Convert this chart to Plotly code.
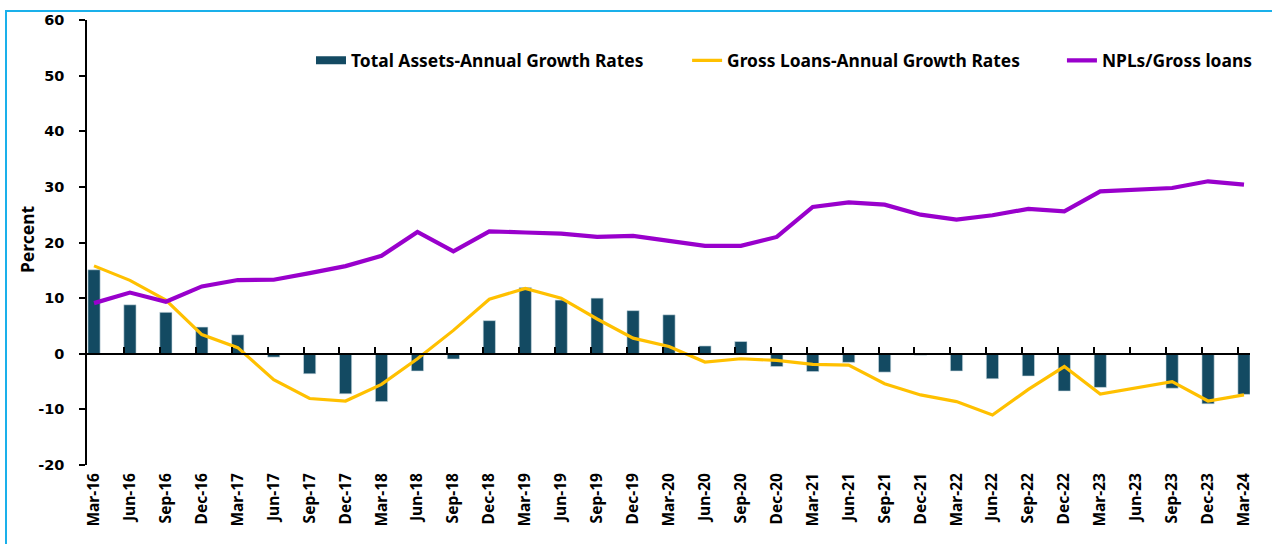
import plotly.graph_objects as go

quarters = ["Mar-16", "Jun-16", "Sep-16", "Dec-16", "Mar-17", "Jun-17", "Sep-17", "Dec-17",
            "Mar-18", "Jun-18", "Sep-18", "Dec-18", "Mar-19", "Jun-19", "Sep-19", "Dec-19",
            "Mar-20", "Jun-20", "Sep-20", "Dec-20", "Mar-21", "Jun-21", "Sep-21", "Dec-21",
            "Mar-22", "Jun-22", "Sep-22", "Dec-22", "Mar-23", "Jun-23", "Sep-23", "Dec-23",
            "Mar-24"]

total_assets_growth = [15.1, 8.8, 7.45, 4.8, 3.4, -0.6, -3.6, -7.2,
                       -8.6, -3.1, -0.95, 5.95, 11.9, 9.65, 10.0, 7.75,
                       7.0, 1.4, 2.2, -2.3, -3.2, -1.55, -3.3, -0.25,
                       -3.1, -4.5, -4.0, -6.7, -6.05, 0.0, -6.2, -9.0,
                       -7.3]

gross_loans_growth = [15.8, 13.2, 9.65, 3.45, 1.1, -4.65, -8.05, -8.5,
                      -5.5, -0.9, 4.2, 9.8, 11.75, 10.0, 6.25, 2.8,
                      1.3, -1.5, -0.9, -1.2, -1.9, -2.05, -5.4, -7.4,
                      -8.6, -11.0, -6.4, -2.3, -7.25, -6.1, -5.0, -8.5,
                      -7.4]

npl_ratio = [9.1, 11.0, 9.35, 12.1, 13.25, 13.3, 14.5, 15.75,
             17.6, 21.9, 18.4, 22.0, 21.8, 21.6, 21.0, 21.2,
             20.3, 19.4, 19.4, 21.0, 26.4, 27.2, 26.8, 25.0,
             24.1, 24.9, 26.05, 25.6, 29.2, 29.5, 29.8, 31.0,
             30.4]

y_ticks = [-20, -10, 0, 10, 20, 30, 40, 50, 60]
y_tick_text = ["-20", "-10", "0", "10", "20", "30", "40", "50", "60"]

names = ["Total Assets-Annual Growth Rates", "Gross Loans-Annual Growth Rates", "NPLs/Gross loans"]

BAR_C = "#134A62"
YEL_C = "#FFC000"
PUR_C = "#9900CC"

x_idx = list(range(len(quarters)))
x_lo, x_hi = -0.195, 32.167

fig = go.Figure()

fig.add_trace(go.Bar(
    x=x_idx, y=total_assets_growth, name=names[0], showlegend=False,
    marker=dict(color=BAR_C, line=dict(color="#cfdde4", width=0.6)),
    width=0.34,
))
fig.add_trace(go.Scatter(
    x=x_idx, y=gross_loans_growth, name=names[1], mode="lines",
    line=dict(color=YEL_C, width=3.2), legend="legend2",
))
fig.add_trace(go.Scatter(
    x=x_idx, y=npl_ratio, name=names[2], mode="lines",
    line=dict(color=PUR_C, width=4.2), legend="legend3",
))
# legend-only entry for the bars (wide rectangle key like the original)
fig.add_trace(go.Scatter(
    x=[None], y=[None], name=names[0], mode="lines",
    line=dict(color=BAR_C, width=8), legend="legend",
))
# empty trace that activates the zero-line axis (x2)
fig.add_trace(go.Scatter(
    x=[None], y=[None], xaxis="x2", yaxis="y", showlegend=False, hoverinfo="skip",
))

legend_font = dict(family="Noto Sans", size=17.4, color="black", weight="bold")
common_leg = dict(orientation="h", yanchor="middle", y=0.909, xanchor="left",
                  bgcolor="rgba(0,0,0,0)", font=legend_font, itemwidth=30)

fig.update_layout(
    width=1272, height=544,
    margin=dict(l=87, r=22, t=18, b=79),
    paper_bgcolor="white", plot_bgcolor="white",
    barmode="overlay",
    legend=dict(x=0.1926, **common_leg),
    legend2=dict(x=0.516, **common_leg),
    legend3=dict(x=0.8383, **common_leg),
    xaxis=dict(
        range=[x_lo, x_hi], tickmode="array", tickvals=x_idx, ticktext=quarters,
        tickangle=-90, showline=False, showgrid=False, zeroline=False, ticks="",
        tickfont=dict(family="Noto Sans", size=15.5, color="black", weight="bold"),
        ticklabelstandoff=4,
    ),
    xaxis2=dict(
        overlaying="x", anchor="free", position=0.25, range=[x_lo, x_hi],
        showline=True, linecolor="black", linewidth=1.5,
        ticks="inside", ticklen=6, tickwidth=1.5, tickcolor="black",
        tickmode="array", tickvals=[i - 0.17 for i in x_idx[1:]],
        showticklabels=False, showgrid=False, zeroline=False, layer="above traces",
    ),
    yaxis=dict(
        range=[-20, 60], tickmode="array", tickvals=y_ticks, ticktext=y_tick_text,
        showline=True, linecolor="black", linewidth=1.5,
        ticks="outside", ticklen=6, tickwidth=1.5, tickcolor="black",
        showgrid=False, zeroline=True, zerolinecolor="black", zerolinewidth=1.5,
        tickfont=dict(family="DejaVu Sans", size=14.5, color="black", weight="bold"),
        ticklabelstandoff=12,
    ),
    annotations=[dict(
        text="Percent", xref="paper", yref="paper", x=(27 - 87) / 1163, y=(465 - 238) / 447,
        textangle=-90, showarrow=False, xanchor="center", yanchor="middle",
        font=dict(family="Noto Sans", size=17.5, color="black", weight="bold"),
    )],
    shapes=[
        dict(
            type="rect", xref="paper", yref="paper",
            x0=(6 - 87) / 1163, x1=1.3, y0=-0.5, y1=(465 - 9) / 447,
            line=dict(color="#1AB0EA", width=2), fillcolor="rgba(0,0,0,0)", layer="below",
        ),
        dict(
            type="line", xref="paper", yref="y", x0=0, x1=1, y0=0, y1=0,
            line=dict(color="black", width=1.5), layer="above",
        ),
    ],
)

fig.write_html("out.html", config={"displayModeBar": False},
               post_script="document.body.style.margin='0';")
